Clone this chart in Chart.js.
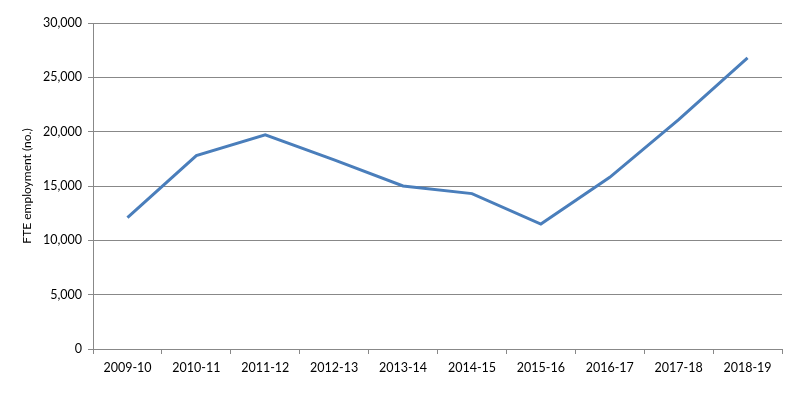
<!DOCTYPE html>
<html>
<head>
<meta charset="utf-8">
<script src="https://cdn.jsdelivr.net/npm/chart.js@4/dist/chart.umd.min.js"></script>
<style>
  html, body { margin: 0; padding: 0; background: #fff; }
  #wrap { width: 800px; height: 393px; }
</style>
</head>
<body>
<div id="wrap"><canvas id="fteChart" width="800" height="393"></canvas></div>
<script>
var years = ['2009-10', '2010-11', '2011-12', '2012-13', '2013-14', '2014-15', '2015-16', '2016-17', '2017-18', '2018-19'];
var fteEmployment = [12100, 17800, 19700, 17400, 15000, 14300, 11500, 15800, 21100, 26800];
var yTicks = [0, 5000, 10000, 15000, 20000, 25000, 30000];

var ctx = document.getElementById('fteChart').getContext('2d');
new Chart(ctx, {
    type: 'line',
    data: {
        labels: years,
        datasets: [{
            label: 'FTE employment',
            data: fteEmployment,
            borderColor: '#4a7ebb',
            borderWidth: 3,
            pointRadius: 0,
            tension: 0,
            fill: false
        }]
    },
    options: {
        responsive: false,
        animation: false,
        layout: { padding: { left: 20, right: 18, top: 23, bottom: 0 } },
        plugins: {
            legend: { display: false },
            tooltip: { enabled: false }
        },
        scales: {
            x: {
                offset: true,
                grid: {
                    offset: true,
                    drawOnChartArea: false,
                    color: '#888888',
                    tickLength: 5
                },
                border: { color: '#888888', width: 1 },
                ticks: {
                    color: '#000',
                    font: { family: 'Lato', size: 12.5 },
                    maxRotation: 0,
                    padding: 6
                },
                afterFit: function(scale) { scale.height = 44; }
            },
            y: {
                min: 0,
                max: 30000,
                afterBuildTicks: function(scale) {
                    scale.ticks = yTicks.map(function(v) { return { value: v }; });
                },
                grid: {
                    color: '#888888',
                    tickLength: 5
                },
                border: { color: '#888888', width: 1 },
                ticks: {
                    color: '#000',
                    font: { family: 'Lato', size: 12.5 },
                    padding: 6,
                    callback: function(v) { return v.toLocaleString('en-US'); }
                },
                title: {
                    display: true,
                    text: 'FTE employment (no.)',
                    color: '#000',
                    font: { family: 'Lato', size: 12 },
                    padding: { top: 0, bottom: 4 }
                },
                afterFit: function(scale) { scale.width = 73; }
            }
        }
    }
});
</script>
</body>
</html>
